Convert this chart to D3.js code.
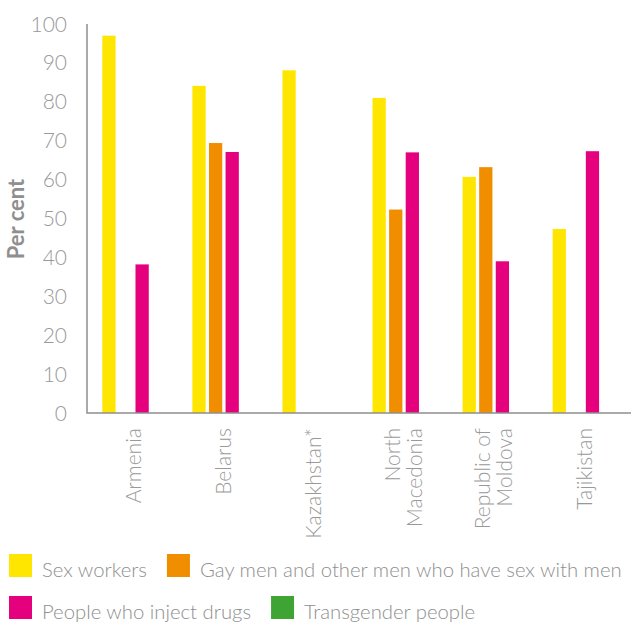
<!DOCTYPE html>
<html>
<head>
<meta charset="utf-8">
<script src="https://cdn.jsdelivr.net/npm/d3@7"></script>
<style>
  body { margin: 0; background: #fff; }
  svg { display: block; font-family: Lato, "Open Sans", sans-serif; }
</style>
</head>
<body>
<div id="graph"></div>
<script>
var countries = ['Armenia', 'Belarus', 'Kazakhstan*', 'North\nMacedonia', 'Republic of\nMoldova', 'Tajikistan']
var series = ['Sex workers', 'Gay men and other men who have sex with men', 'People who inject drugs', 'Transgender people']
var colors = ['#ffe600', '#f18e00', '#e5007e', '#3ea535']

// null = no data
var sexWorkers = [97, 84.1, 88.1, 81, 60.7, 47.3]
var gayMen     = [null, 69.4, null, 52.3, 63.2, null]
var pwid       = [38.2, 67.1, null, 67, 39, 67.3]
var transgender = [null, null, null, null, null, null]
var yTicks = [0, 10, 20, 30, 40, 50, 60, 70, 80, 90, 100]

var values = [sexWorkers, gayMen, pwid, transgender]

var width = 633, height = 623
var margin = {top: 24, left: 87, right: 2, bottom: 210}
var innerW = width - margin.left - margin.right
var innerH = height - margin.top - margin.bottom

var svg = d3.select('#graph').append('svg')
  .attr('width', width).attr('height', height)

var g = svg.append('g').attr('transform', `translate(${margin.left},${margin.top})`)

var x0 = d3.scaleBand().domain(countries).range([0, innerW])
  .paddingInner(0.3).paddingOuter(0.17)
var x1 = d3.scaleBand().domain(d3.range(series.length)).range([0, x0.bandwidth()])
  .paddingInner(0.2).paddingOuter(0)
var y = d3.scaleLinear().domain([0, 100]).range([innerH, 0])

var grey = '#8f8f8f'

// bars
countries.forEach((c, ci) => {
  values.forEach((vals, si) => {
    var v = vals[ci]
    if (v == null) return
    g.append('rect')
      .attr('x', x0(c) + x1(si))
      .attr('y', y(v))
      .attr('width', x1.bandwidth())
      .attr('height', y(0) - y(v))
      .attr('fill', colors[si])
  })
})

// y axis labels
g.selectAll('text.ytick').data(yTicks).join('text')
  .attr('class', 'ytick')
  .attr('x', -20)
  .attr('y', d => y(d))
  .attr('dy', '0.36em')
  .attr('text-anchor', 'end')
  .attr('font-size', 21)
  .attr('font-weight', 300)
  .attr('fill', '#999')
  .text(d => d)

// axis lines
g.append('path')
  .attr('d', `M0,${y(100)}V${y(0)}H${innerW}`)
  .attr('fill', 'none')
  .attr('stroke', grey)
  .attr('stroke-width', 1.5)

// y title
svg.append('text')
  .attr('transform', `translate(24,219) rotate(-90)`)
  .attr('text-anchor', 'middle')
  .attr('font-size', 22)
  .attr('font-weight', 700)
  .attr('fill', grey)
  .text('Per cent')

// x labels
countries.forEach(c => {
  var lines = c.split('\n')
  var cx = x0(c) + x0.bandwidth() / 2
  var t = g.append('text')
    .attr('transform', `translate(${cx},${innerH + 15}) rotate(-90)`)
    .attr('text-anchor', 'end')
    .attr('font-size', 21)
    .attr('font-weight', 300)
    .attr('fill', '#999')
  lines.forEach((l, i) => {
    t.append('tspan')
      .attr('x', 0)
      .attr('dy', i ? '1.05em' : (0.35 - (lines.length - 1) * 0.525) + 'em')
      .text(l)
  })
})

// legend
var rows = [[0, 1], [2, 3]]
rows.forEach((row, ri) => {
  var lx = 9
  var ly = 554 + ri * 42
  row.forEach(si => {
    svg.append('rect')
      .attr('x', lx).attr('y', ly)
      .attr('width', 23).attr('height', 23)
      .attr('fill', colors[si])
    var t = svg.append('text')
      .attr('x', lx + 33).attr('y', ly + 23)
      .attr('font-size', 20.3)
      .attr('font-weight', 300)
      .attr('fill', grey)
      .text(series[si])
    lx += 33 + t.node().getComputedTextLength() + 20
  })
})
</script>
</body>
</html>
